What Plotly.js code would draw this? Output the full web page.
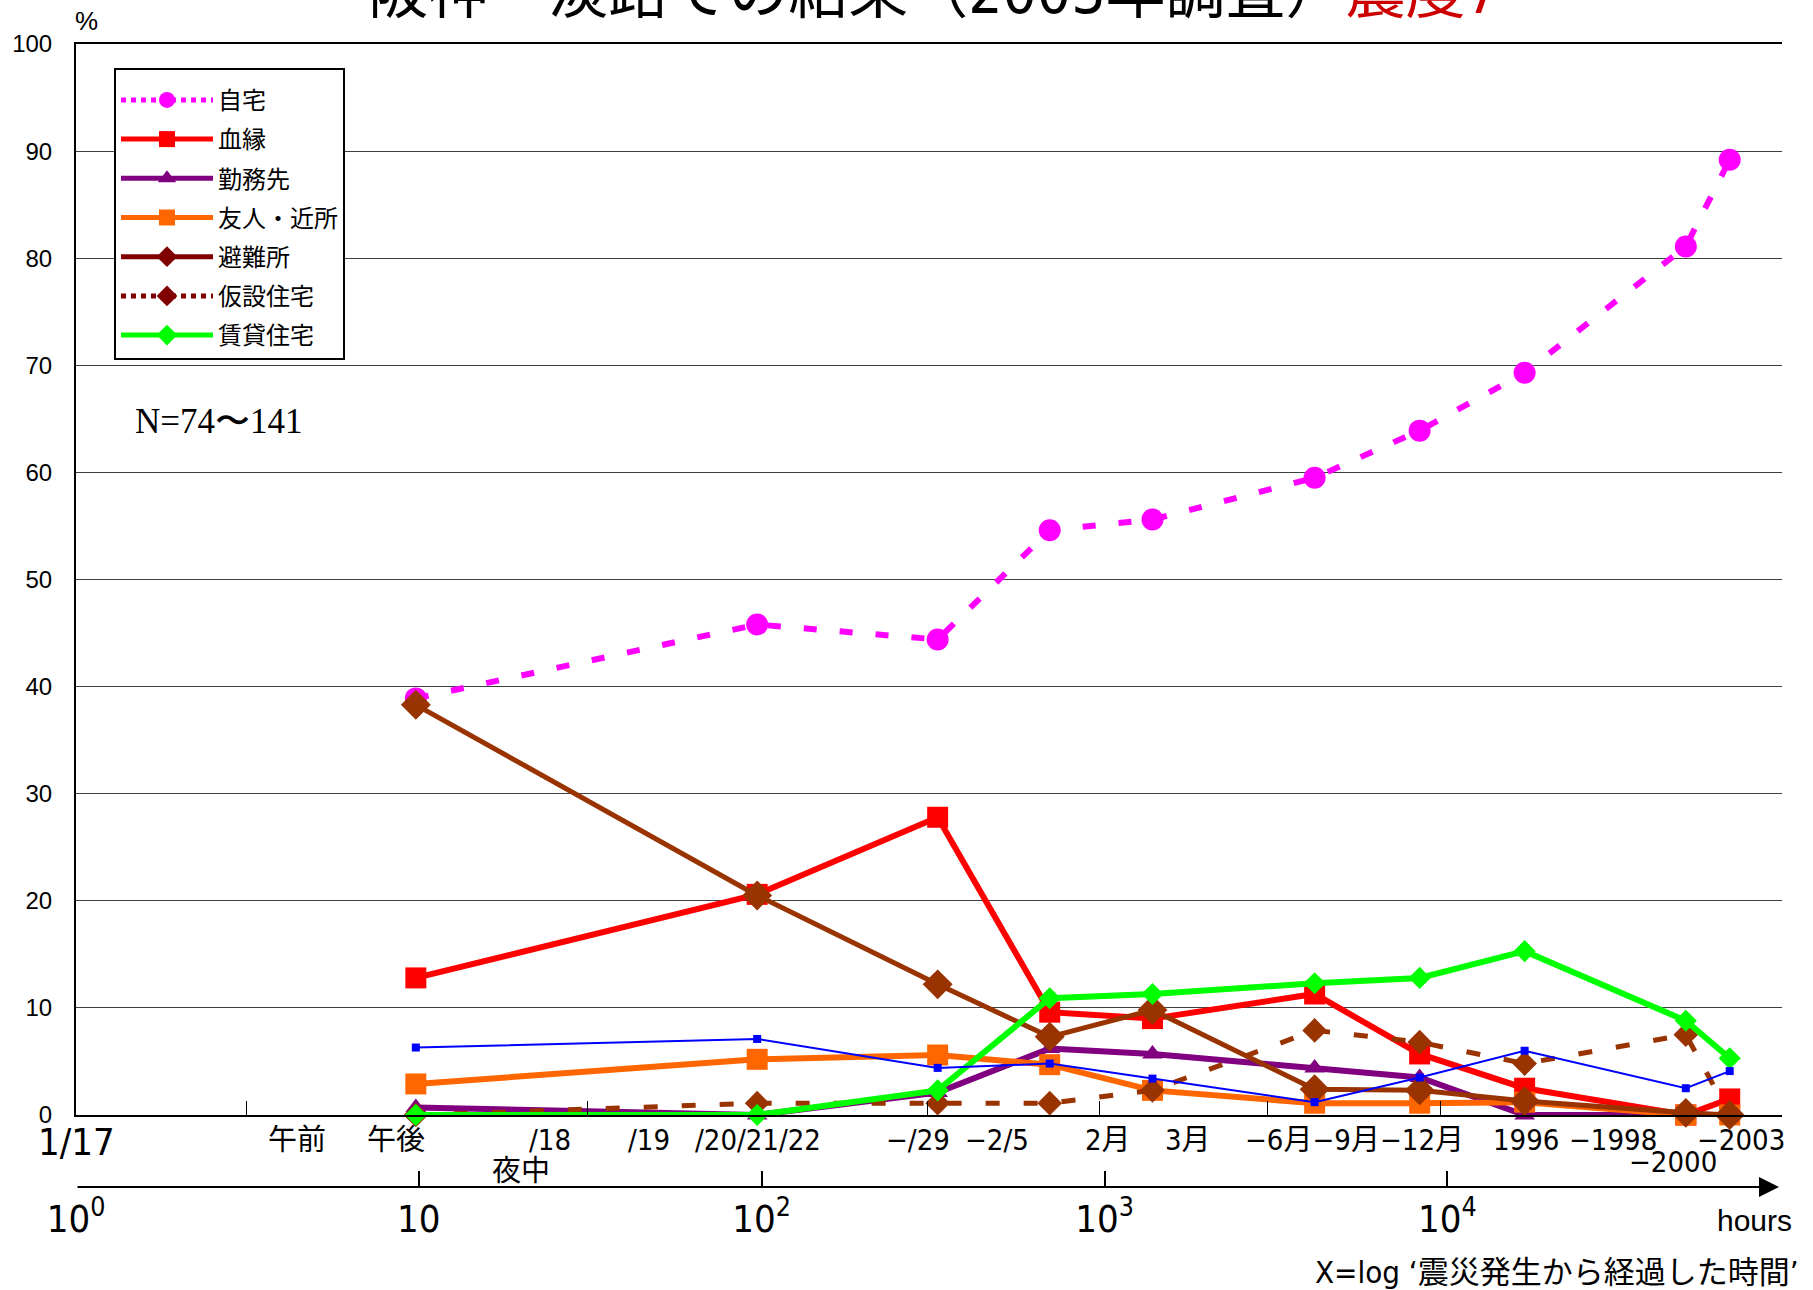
<!DOCTYPE html>
<html>
<head>
<meta charset="utf-8">
<script src="https://cdn.plot.ly/plotly-3.0.1.min.js"></script>
<style>
html,body{margin:0;padding:0;background:#fff;}
#chart{width:1813px;height:1290px;}
</style>
</head>
<body>
<div id="chart"></div>
<script>
// ---- data (hours since the earthquake, percentages) ----
const hours      = [9.8, 97, 326, 692, 1380, 4100, 8300, 16800, 49600, 66600];
const jitaku     = [38.9, 45.8, 44.4, 54.6, 55.6, 59.5, 63.9, 69.3, 81.1, 89.2];   // 自宅
const ketsuen    = [12.8, 20.6, 27.8, 9.6, 9.0, 11.3, 5.7, 2.5, 0, 1.5];         // 血縁
const kinmusaki  = [0.7, 0, 2.1, 6.2, 5.7, 4.4, 3.5, 0, 0, 0];                  // 勤務先
const yujin      = [2.9, 5.2, 5.6, 4.7, 2.3, 1.1, 1.1, 1.2, 0, 0];              // 友人・近所
const hinanjo    = [38.3, 20.5, 12.2, 7.3, 9.8, 2.4, 2.3, 1.3, 0.2, 0];         // 避難所
const kasetsu    = [0, 1.1, 1.1, 1.1, 2.3, 7.9, 6.8, 4.8, 7.5, 0];              // 仮設住宅
const chintai    = [0, 0, 2.3, 10.9, 11.3, 12.3, 12.8, 15.3, 8.8, 5.3];         // 賃貸住宅
const otherSeries= [6.3, 7.1, 4.4, 4.8, 3.4, 1.2, 3.5, 6.0, 2.5, 4.1];          // unlabeled blue line

const seriesNames = ['自宅','血縁','勤務先','友人・近所','避難所','仮設住宅','賃貸住宅'];

const yTickVals   = [0,10,20,30,40,50,60,70,80,90,100];
const logTickVals = [1, 10, 100, 1000, 10000];
const logTickText = ['10<sup>0</sup>','10','10<sup>2</sup>','10<sup>3</sup>','10<sup>4</sup>'];
const sepTicks    = [3.14, 31.1, 305, 969, 2995, 9573];

const periodLabels = ['1/17','午前','午後','/18','/19','/20/21/22','夜中','−/29','−2/5','2月','3月','−6月−9月−12月','1996','−1998','−2000','−2003'];
const periodHours  = [1, 4.4, 8.6, 24.2, 46.8, 97.3, 19.8, 285, 487, 1021, 1750, 5370, 16950, 30400, 45500, 71800];
const periodRow    = [0, 1, 1, 1, 1, 1, 3, 1, 1, 1, 1, 1, 1, 1, 2, 1];

const titleMain = '阪神・淡路での結果（2003年調査）';
const titleRed  = '震度7';

// ---- styling ----
const NARROW = "'Liberation Sans Narrow','DejaVu Sans Condensed','Noto Sans CJK JP',sans-serif";
const SANS   = "'Liberation Sans',Arial,'Noto Sans CJK JP',sans-serif";
const CJK    = "'Noto Sans CJK JP','Liberation Sans',sans-serif";

const styles = {
  '自宅':     {color:'#FF00FF', width:6, dash:'13px,23px', symbol:'circle', size:22, lcolor:'#FF00FF', ldash:'5px,5px'},
  '血縁':     {color:'#FF0000', width:6, dash:'solid', symbol:'square', size:21, lcolor:'#FF0000', ldash:'solid'},
  '勤務先':   {color:'#800080', width:6, dash:'solid', symbol:'triangle-up', size:18, lcolor:'#800080', ldash:'solid'},
  '友人・近所': {color:'#FF6600', width:6, dash:'solid', symbol:'square', size:21, lcolor:'#FF6600', ldash:'solid'},
  '避難所':   {color:'#993300', width:5, dash:'solid', symbol:'diamond', size:23, lcolor:'#800000', ldash:'solid'},
  '仮設住宅': {color:'#993300', width:5, dash:'14px,24px', symbol:'diamond', size:19, lcolor:'#800000', ldash:'5px,5px'},
  '賃貸住宅': {color:'#00FF00', width:6, dash:'solid', symbol:'diamond', size:17, lcolor:'#00FF00', ldash:'solid'}
};
const valuesByName = {
  '自宅': jitaku, '血縁': ketsuen, '勤務先': kinmusaki, '友人・近所': yujin,
  '避難所': hinanjo, '仮設住宅': kasetsu, '賃貸住宅': chintai
};

const drawOrder = ['自宅','血縁','勤務先','友人・近所','仮設住宅','避難所','賃貸住宅'];
const traces = [];
drawOrder.forEach(n => {
  const s = styles[n];
  traces.push({
    x: hours, y: valuesByName[n], name: n, type: 'scatter', mode: 'lines+markers',
    xaxis: 'x', yaxis: 'y', showlegend: false, cliponaxis: false,
    line: {color: s.color, width: s.width, dash: s.dash},
    marker: {color: s.color, symbol: s.symbol, size: s.size, line: {width: 0}}
  });
});
// unlabeled blue series, drawn on the overlaid log-hours axis (same range as x)
traces.push({
  x: hours, y: otherSeries, type: 'scatter', mode: 'lines+markers',
  xaxis: 'x2', yaxis: 'y', showlegend: false, cliponaxis: false,
  line: {color: '#0000FF', width: 2}, marker: {color: '#0000FF', symbol: 'square', size: 8}
});
// legend entries (legend colours differ slightly from plotted colours in the original)
seriesNames.forEach((n, i) => {
  const s = styles[n];
  traces.push({
    x: [null], y: [null], name: n, type: 'scatter', mode: 'lines+markers',
    xaxis: 'x', yaxis: 'y', showlegend: true, legendgroup: 'g' + i,
    line: {color: s.lcolor, width: 5, dash: s.ldash},
    marker: {color: s.lcolor, symbol: s.symbol, size: 16}
  });
});

// ---- geometry helpers (paper coords) ----
const W = 1813, H = 1290;
const M = {l: 76, r: 31, t: 44, b: 103};
const PW = W - M.l - M.r, PH = H - M.t - M.b;
const py = (pix) => (H - M.b - pix) / PH;       // pixel y -> paper y
const px = (pix) => (pix - M.l) / PW;           // pixel x -> paper x
const rowY = {0: py(1142), 1: py(1140), 2: py(1162), 3: py(1171)};

const annotations = [];
periodLabels.forEach((t, i) => {
  annotations.push({
    text: t, xref: 'x', yref: 'paper', x: Math.log10(periodHours[i]), y: rowY[periodRow[i]],
    xanchor: 'center', yanchor: 'middle', showarrow: false,
    font: {family: NARROW, size: i === 0 ? 38 : 29, color: '#000'}
  });
});
annotations.push({text: '%', xref: 'paper', yref: 'paper', x: px(86), y: py(21),
  xanchor: 'center', yanchor: 'middle', showarrow: false, font: {family: SANS, size: 26, color: '#000'}});
annotations.push({text: 'N=74〜141', xref: 'paper', yref: 'paper', x: px(133), y: py(422),
  xanchor: 'left', yanchor: 'middle', showarrow: false, font: {family: "'Liberation Serif','Times New Roman',serif", size: 35, color: '#000'}});
annotations.push({text: 'hours', xref: 'paper', yref: 'paper', x: px(1754), y: py(1221),
  xanchor: 'center', yanchor: 'middle', showarrow: false, font: {family: SANS, size: 30, color: '#000'}});
annotations.push({text: 'X=log ‘震災発生から経過した時間’', xref: 'paper', yref: 'paper', x: px(1801), y: py(1272),
  xanchor: 'right', yanchor: 'middle', showarrow: false, font: {family: NARROW, size: 31, color: '#000'}});
// arrow of the log time axis
annotations.push({text: '', xref: 'paper', yref: 'paper', x: px(1779), y: 0,
  axref: 'pixel', ayref: 'pixel', ax: -(1779 - M.l), ay: 0,
  showarrow: true, arrowhead: 2, arrowsize: 2, arrowwidth: 2, arrowcolor: '#000', standoff: 0});

const layout = {
  width: W, height: H,
  margin: M,
  paper_bgcolor: '#fff', plot_bgcolor: '#fff',
  font: {family: CJK, color: '#000'},
  title: {
    text: titleMain + '<span style="color:#CC0000">' + titleRed + '</span>',
    font: {family: NARROW, size: 60, color: '#000'},
    xref: 'container', x: 934 / W, xanchor: 'center',
    yref: 'paper', y: 1, yanchor: 'bottom', pad: {t: 0, b: 31, l: 0, r: 0}
  },
  xaxis: {
    type: 'log', range: [0, 4.976], anchor: 'y',
    tickvals: sepTicks, ticks: 'inside', ticklen: 14, tickwidth: 1, tickcolor: '#000',
    showticklabels: false, showgrid: false, zeroline: false,
    showline: true, linecolor: '#000', linewidth: 2, mirror: true
  },
  xaxis2: {
    type: 'log', range: [0, 4.976], overlaying: 'x', anchor: 'free', position: 0, side: 'bottom',
    tickvals: logTickVals, ticktext: logTickText, ticks: 'inside', ticklen: 16, tickwidth: 2, tickcolor: '#000',
    showline: false, showgrid: false, zeroline: false,
    tickfont: {family: NARROW, size: 38, color: '#000'}, ticklabelstandoff: 6
  },
  yaxis: {
    range: [0, 100], domain: [py(1115), 1], anchor: 'x',
    tickvals: yTickVals, ticks: '', showgrid: true, gridcolor: '#404040', gridwidth: 1,
    zeroline: false, showline: true, linecolor: '#000', linewidth: 2,
    tickfont: {family: SANS, size: 24, color: '#000'}, ticklabelstandoff: 17
  },
  yaxis2: {
    range: [0, 100], overlaying: 'y', side: 'right', anchor: 'x',
    showline: true, linecolor: '#808080', linewidth: 2,
    showticklabels: false, showgrid: false, zeroline: false, ticks: ''
  },
  legend: {
    x: px(114), y: py(68), xanchor: 'left', yanchor: 'top',
    bgcolor: '#fff', bordercolor: '#000', borderwidth: 2,
    font: {family: CJK, size: 24, color: '#000'},
    title: {text: ' ', font: {size: 6}},
    itemwidth: 92, tracegroupgap: 5, traceorder: 'grouped', itemsizing: 'trace'
  },
  annotations: annotations,
  showlegend: true
};

Plotly.newPlot('chart', traces, layout, {displayModeBar: false, staticPlot: true});
</script>
</body>
</html>
